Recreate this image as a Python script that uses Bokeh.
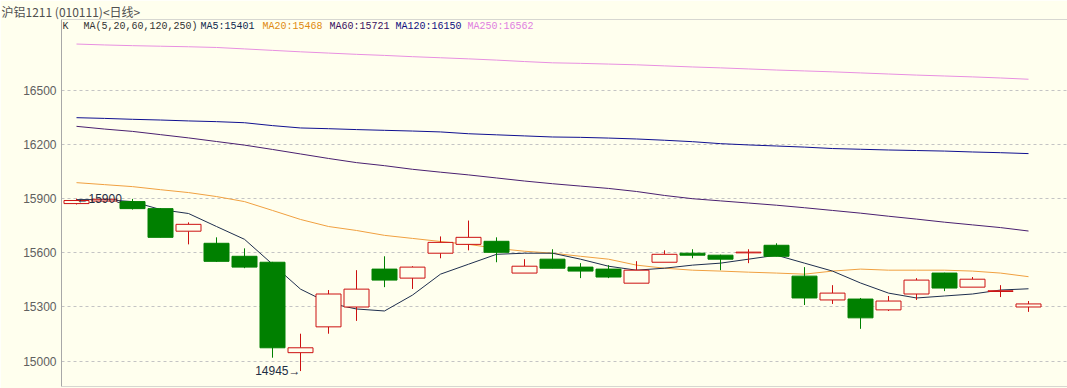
from bokeh.plotting import figure
from bokeh.models import Range1d, Span, Label, FixedTicker, ColumnDataSource
from bokeh.embed import file_html
from bokeh.resources import INLINE

# ---------------- data ----------------
title_text = "沪铝1211 (010111)<日线>"

opens  = [15873, 15887, 15884, 15845, 15720, 15653, 15581, 15548, 15047, 15190,
          15300, 15510, 15460, 15598, 15647, 15664, 15488, 15565, 15521, 15510,
          15432, 15548, 15598, 15587, 15600, 15642, 15471, 15339, 15344, 15284,
          15372, 15488, 15410, 15386, 15300]
highs  = [15900, 15898, 15899, 15848, 15769, 15686, 15625, 15550, 15152, 15394,
          15504, 15581, 15526, 15691, 15779, 15686, 15565, 15620, 15543, 15532,
          15554, 15614, 15620, 15590, 15620, 15653, 15521, 15421, 15350, 15361,
          15460, 15490, 15466, 15421, 15333]
lows   = [15868, 15885, 15840, 15686, 15647, 15550, 15515, 15019, 14945, 15152,
          15223, 15410, 15400, 15570, 15614, 15548, 15488, 15515, 15460, 15460,
          15432, 15548, 15570, 15504, 15543, 15581, 15311, 15317, 15179, 15278,
          15339, 15388, 15410, 15355, 15273]
closes = [15890, 15897, 15845, 15686, 15758, 15553, 15521, 15074, 15074, 15372,
          15399, 15449, 15521, 15658, 15686, 15603, 15526, 15515, 15499, 15466,
          15504, 15592, 15587, 15565, 15604, 15581, 15350, 15377, 15240, 15333,
          15449, 15405, 15454, 15390, 15317]

ma5   = [15895, 15895, 15884, 15840, 15818, 15746, 15675, 15537, 15399, 15322,
         15289, 15278, 15366, 15482, 15537, 15592, 15598, 15598, 15565, 15526,
         15504, 15515, 15532, 15543, 15565, 15587, 15543, 15499, 15433, 15377,
         15350, 15361, 15372, 15394, 15401]
ma20  = [15989, 15978, 15967, 15950, 15934, 15912, 15884, 15835, 15785, 15746,
         15724, 15697, 15680, 15663, 15647, 15625, 15609, 15598, 15581, 15565,
         15532, 15515, 15504, 15499, 15493, 15488, 15482, 15499, 15510, 15504,
         15504, 15504, 15499, 15488, 15468]
ma60  = [16301, 16286, 16273, 16255, 16237, 16217, 16197, 16173, 16148, 16123,
         16100, 16083, 16063, 16047, 16032, 16015, 15998, 15983, 15970, 15957,
         15940, 15918, 15900, 15888, 15876, 15864, 15850, 15835, 15820, 15803,
         15787, 15770, 15755, 15740, 15721]
ma120 = [16349, 16345, 16340, 16336, 16331, 16327, 16321, 16305, 16292, 16288,
         16283, 16279, 16275, 16270, 16260, 16254, 16248, 16242, 16240, 16236,
         16231, 16224, 16216, 16205, 16198, 16192, 16186, 16178, 16174, 16170,
         16167, 16164, 16159, 16155, 16150]
ma250 = [16757, 16752, 16748, 16745, 16742, 16738, 16730, 16722, 16714, 16707,
         16700, 16694, 16687, 16681, 16675, 16668, 16660, 16653, 16650, 16646,
         16642, 16636, 16630, 16625, 16619, 16613, 16608, 16603, 16597, 16591,
         16585, 16580, 16575, 16569, 16562]

y_ticks = [15000, 15300, 15600, 15900, 16200, 16500]
legend_texts = ["K", "MA(5,20,60,120,250)", "MA5:15401", "MA20:15468",
                "MA60:15721", "MA120:16150", "MA250:16562"]
high_mark = 15900
low_mark = 14945

# ---------------- styles ----------------
BG = "#FFFFEE"
RED = "#CC1010"
GREEN = "#008000"
ma_colors = ["#1E2E4E", "#F0A040", "#4A2070", "#101090", "#E890E0"]
legend_colors = ["#333333", "#333333", "#102A50", "#E08A10", "#3A1060", "#101080", "#E080E0"]
legend_px = [62, 83, 200, 262, 329, 395, 467]   # page x of each legend piece

WIDTH, HEIGHT = 1067, 388
LEFT, TOP, BOTTOM = 61, 17, 2
Y_TOP, Y_BOT = 16893, 14859.5

n = len(closes)
xs = list(range(n))
SP = 28.0
x0 = -15.0 / SP
frame_w = WIDTH - LEFT
p = figure(width=WIDTH, height=HEIGHT, output_backend="svg", toolbar_location=None,
           x_range=Range1d(x0, x0 + frame_w / SP), y_range=Range1d(Y_BOT, Y_TOP),
           min_border_left=LEFT, min_border_right=0, min_border_top=TOP, min_border_bottom=BOTTOM)
p.background_fill_color = BG
p.border_fill_color = BG
p.outline_line_color = None
p.xaxis.visible = False
p.xgrid.visible = False
p.ygrid.grid_line_color = "#C4C4C4"
p.ygrid.grid_line_dash = "3 3"
p.yaxis.ticker = FixedTicker(ticks=y_ticks)
p.yaxis.major_tick_line_color = None
p.yaxis.minor_tick_line_color = None
p.yaxis.major_tick_out = 0
p.yaxis.major_label_standoff = 5
p.yaxis.axis_line_color = "#A8A8A8"
p.yaxis.major_label_text_font = "Liberation Sans"
p.yaxis.major_label_text_font_size = "12px"
p.yaxis.major_label_text_color = "#606060"

# title
p.title.text = title_text
p.title.align = "left"
p.title.offset = -(LEFT - 1)
p.title.standoff = 0
p.title.text_font = "Noto Sans CJK SC"
p.title.text_font_size = "12px"
p.title.text_font_style = "normal"
p.title.text_color = "#505050"

# separator lines
p.add_layout(Span(location=Y_TOP, dimension="width", line_color="#B0B0B0", line_width=1))
p.add_layout(Span(location=Y_BOT, dimension="width", line_color="#B0B0B0", line_width=1))

# MA lines
for arr, col in zip([ma250, ma120, ma60, ma20, ma5], ma_colors[::-1]):
    p.line(xs, arr, line_color=col, line_width=1)

# candles
up = [c >= o for o, c in zip(opens, closes)]
def pick(arr, want):
    return [a for a, u in zip(arr, up) if u == want]
src_up = ColumnDataSource(dict(x=pick(xs, True), o=pick(opens, True), c=pick(closes, True),
                               h=pick(highs, True), l=pick(lows, True)))
src_dn = ColumnDataSource(dict(x=pick(xs, False), o=pick(opens, False), c=pick(closes, False),
                               h=pick(highs, False), l=pick(lows, False)))
W = 25 / SP
p.segment(x0="x", y0="h", x1="x", y1="l", source=src_dn, line_color=GREEN, line_width=1)
p.vbar(x="x", top="o", bottom="c", width=W, source=src_dn, fill_color=GREEN, line_color=GREEN)
p.segment(x0="x", y0="h", x1="x", y1="c", source=src_up, line_color=RED, line_width=1)
p.segment(x0="x", y0="o", x1="x", y1="l", source=src_up, line_color=RED, line_width=1)
p.vbar(x="x", top="c", bottom="o", width=W, source=src_up, fill_color=BG, line_color=RED, line_width=1)

# high / low marks
hi_i = highs.index(max(highs))
lo_i = lows.index(min(lows))
p.add_layout(Label(x=hi_i, y=high_mark, text="\u2190" + str(high_mark), text_font="Liberation Sans",
                   text_font_size="12px", text_color="#1E2E44", text_baseline="middle", text_align="left"))
p.add_layout(Label(x=lo_i, y=low_mark, text=str(low_mark) + "\u2192", text_font="Liberation Sans",
                   text_font_size="12px", text_color="#1E2E44", text_baseline="middle", text_align="right"))

# legend texts
leg_y = Y_TOP - 7 * (Y_TOP - Y_BOT) / (HEIGHT - TOP - BOTTOM)
for t, px, col in zip(legend_texts, legend_px, legend_colors):
    p.add_layout(Label(x=(px - 76) / SP, y=leg_y, text=t, text_font="Liberation Mono",
                       text_font_size="10px", text_color=col, text_baseline="middle", text_align="left"))

open("out.html", "w").write(file_html(p, INLINE))
